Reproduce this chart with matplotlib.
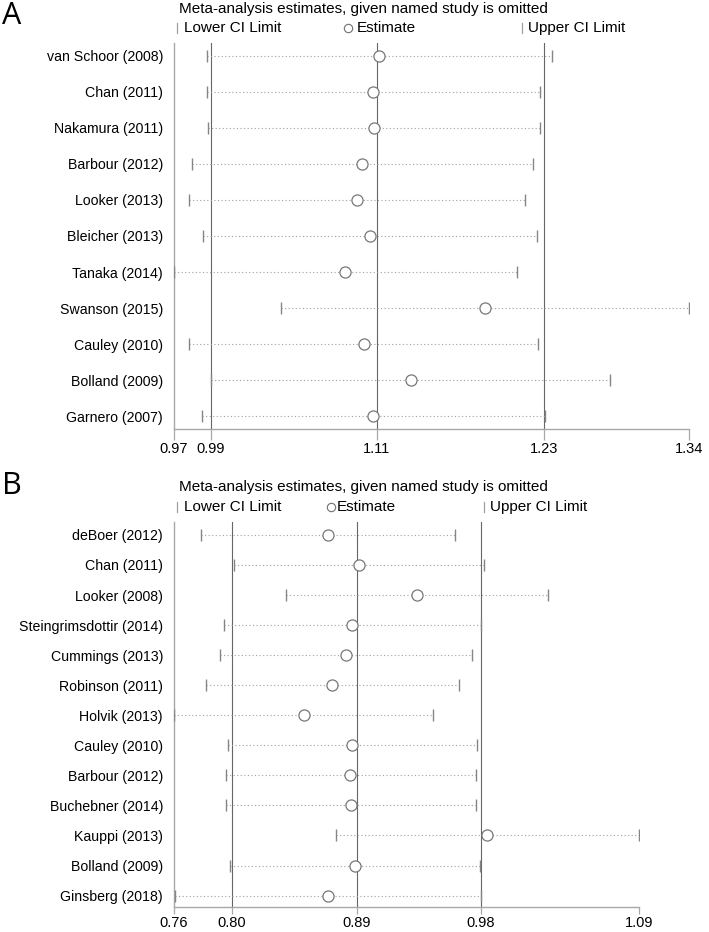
import matplotlib
matplotlib.use("Agg")
import matplotlib.pyplot as plt
from matplotlib.lines import Line2D

plt.rcParams['font.family'] = ['Liberation Sans', 'DejaVu Sans']

# ---------------- Panel A data ----------------
studies_a = ["van Schoor (2008)", "Chan (2011)", "Nakamura (2011)", "Barbour (2012)",
             "Looker (2013)", "Bleicher (2013)", "Tanaka (2014)", "Swanson (2015)",
             "Cauley (2010)", "Bolland (2009)", "Garnero (2007)"]
lower_a = [0.9869, 0.9869, 0.9876, 0.9763, 0.9744, 0.9845, 0.9633, 1.0407, 0.9744, 0.9898, 0.9833]
est_a = [1.1109, 1.1070, 1.1077, 1.0988, 1.0952, 1.1046, 1.0868, 1.1875, 1.1001, 1.1339, 1.1070]
upper_a = [1.2360, 1.2273, 1.2273, 1.2219, 1.2161, 1.2247, 1.2108, 1.3347, 1.2259, 1.2778, 1.2309]
overall_a = [0.99, 1.1095, 1.23]
ticklabels_a = ["0.97", "0.99", "1.11", "1.23", "1.34"]

# ---------------- Panel B data ----------------
studies_b = ["deBoer (2012)", "Chan (2011)", "Looker (2008)", "Steingrimsdottir (2014)",
             "Cummings (2013)", "Robinson (2011)", "Holvik (2013)", "Cauley (2010)",
             "Barbour (2012)", "Buchebner (2014)", "Kauppi (2013)", "Bolland (2009)",
             "Ginsberg (2018)"]
lower_b = [0.7776, 0.8017, 0.8394, 0.7947, 0.7918, 0.7817, 0.7583, 0.7971, 0.7957, 0.7961, 0.8755, 0.7990, 0.7591]
est_b = [0.8693, 0.8917, 0.9336, 0.8871, 0.8827, 0.8724, 0.8520, 0.8869, 0.8856, 0.8859, 0.9843, 0.8888, 0.8697]
upper_b = [0.9614, 0.9819, 1.0286, 0.9798, 0.9737, 0.9639, 0.9456, 0.9771, 0.9764, 0.9764, 1.0941, 0.9793, 0.9800]
overall_b = [0.80, 0.8903, 0.98]
ticklabels_b = ["0.76", "0.80", "0.89", "0.98", "1.09"]

W, H = 709, 932
fig = plt.figure(figsize=(W / 100, H / 100), dpi=100)

REF = "#666666"
CI = "#858585"
DOT = "#a0a0a0"
SPINE = "#a8a8a8"
FS = 10.2
FS_HEAD = 11


def fx(px):
    return px / W


def fy(py):
    return 1 - py / H


def panel(rect, studies, lower, est, upper, overall, ticklabels, pad_top, pad_bot, tick_ms, xtick_len):
    ax = fig.add_axes(rect)
    n = len(studies)
    ys = list(range(n))
    for y, lo, e, up in zip(ys, lower, est, upper):
        ax.plot([lo, up], [y, y], linestyle=(0, (1, 2.2)), color=DOT, lw=0.8, zorder=2)
    ax.plot(lower, ys, linestyle='none', marker='|', ms=tick_ms, mew=1.0, color=CI, zorder=3)
    ax.plot(upper, ys, linestyle='none', marker='|', ms=tick_ms, mew=1.0, color=CI, zorder=3)
    ax.plot(est, ys, linestyle='none', marker='o', ms=8, mfc='white', mec='#777777', mew=0.9, zorder=4)
    for v in overall:
        ax.axvline(v, color=REF, lw=0.8, zorder=1)
    xmin, xmax = min(lower), max(upper)
    ax.set_xlim(xmin, xmax)
    ax.set_ylim(n - 1 + pad_bot, -pad_top)
    ax.set_yticks(ys)
    ax.set_yticklabels(studies, fontsize=FS)
    ax.tick_params(axis='y', length=0, pad=8)
    ticks = [xmin] + list(overall) + [xmax]
    ax.set_xticks(ticks)
    ax.set_xticklabels(ticklabels, fontsize=10.5)
    ax.tick_params(axis='x', length=xtick_len, width=0.9, color=SPINE, pad=1.5)
    for s in ['top', 'right']:
        ax.spines[s].set_visible(False)
    for s in ['left', 'bottom']:
        ax.spines[s].set_color(SPINE)
        ax.spines[s].set_linewidth(1.0)
    return ax


# Panel A
ax_a = panel([fx(174), fy(429.3), fx(689.3 - 174), (429.3 - 43) / H],
             studies_a, lower_a, est_a, upper_a, overall_a, ticklabels_a, 0.35, 0.36, 9, 8)
# Panel B
ax_b = panel([fx(174), fy(907), fx(639 - 174), (907 - 521.7) / H],
             studies_b, lower_b, est_b, upper_b, overall_b, ticklabels_b, 0.44, 0.38, 8, 5)


def header(letter, letter_y, title_y, leg_y, bar1_x, circ_x, bar2_x, est_gap):
    fig.text(fx(2), fy(letter_y), letter, fontsize=22, ha='left', va='center',
             family=['Open Sans', 'DejaVu Sans'])
    fig.text(fx(179), fy(title_y), "Meta-analysis estimates, given named study is omitted",
             fontsize=FS_HEAD, ha='left', va='center')
    for bx in (bar1_x, bar2_x):
        fig.add_artist(Line2D([fx(bx), fx(bx)], [fy(leg_y - 5), fy(leg_y + 5)],
                              color='#a0a0a0', lw=0.9, transform=fig.transFigure))
    fig.add_artist(Line2D([fx(circ_x)], [fy(leg_y)], marker='o', ms=6, mfc='white',
                          mec='#707070', mew=0.8, transform=fig.transFigure))
    fig.text(fx(bar1_x + 7), fy(leg_y), "Lower CI Limit", fontsize=FS_HEAD, ha='left', va='center')
    fig.text(fx(circ_x + est_gap), fy(leg_y), "Estimate", fontsize=FS_HEAD, ha='left', va='center')
    fig.text(fx(bar2_x + 6), fy(leg_y), "Upper CI Limit", fontsize=FS_HEAD, ha='left', va='center')


header("A", 16, 9, 28, 177, 348, 522, 9)
header("B", 486, 487, 507, 177, 331, 484, 6)

fig.savefig("out.png", dpi=100, facecolor='white')
